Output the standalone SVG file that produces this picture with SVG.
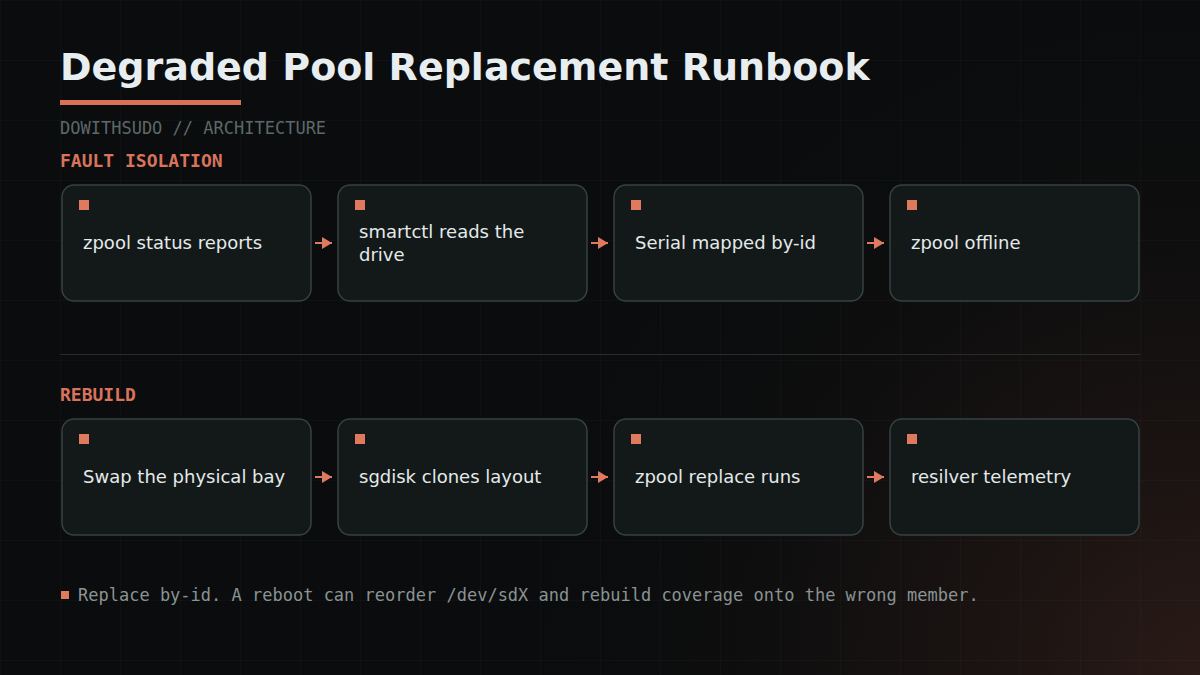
<svg xmlns="http://www.w3.org/2000/svg" width="1200" height="675" viewBox="0 0 1200 675">
  <defs>
    <pattern id="grid" width="60" height="60" patternUnits="userSpaceOnUse">
      <path d="M60 0 L0 0 0 60" fill="none" stroke="#ffffff" stroke-opacity="0.035" stroke-width="1"/>
    </pattern>
    <radialGradient id="glow" cx="1200" cy="675" r="700" gradientUnits="userSpaceOnUse">
      <stop offset="0" stop-color="#2e1c18" stop-opacity="0.9"/>
      <stop offset="0.45" stop-color="#1e1513" stop-opacity="0.55"/>
      <stop offset="1" stop-color="#0a0c0d" stop-opacity="0"/>
    </radialGradient>
    <marker id="arrow" viewBox="0 0 10 12" refX="10" refY="6" markerWidth="10" markerHeight="12" markerUnits="userSpaceOnUse" orient="auto">
      <path d="M0 0 L10 6 L0 12 Z" fill="#e07a5f"/>
    </marker>
    <style>
      .node rect.box { fill: #131919; stroke: #364141; stroke-width: 1.5; }
      .node rect.dot { fill: #e07a5f; }
      .label { font-family: "DejaVu Sans", Verdana, sans-serif; font-size: 18px; fill: #e4eaea; }
      .section { font-family: "DejaVu Sans Mono", monospace; font-size: 18px; font-weight: bold; fill: #d9735c; }
      .conn line { stroke: #e07a5f; stroke-width: 2; }
    </style>
  </defs>

  <rect width="1200" height="675" fill="#0a0c0d"/>
  <rect width="1200" height="675" fill="url(#glow)"/>
  <rect width="1200" height="675" fill="url(#grid)"/>

  <g id="header">
    <text x="60" y="80" font-family="DejaVu Sans, Verdana, sans-serif" font-size="38" font-weight="bold" fill="#e8eef0">Degraded Pool Replacement Runbook</text>
    <rect x="60" y="100" width="181" height="5" fill="#d9705a"/>
    <text x="60" y="134" font-family="DejaVu Sans Mono, monospace" font-size="17" fill="#5d6868">DOWITHSUDO // ARCHITECTURE</text>
  </g>

  <text class="section" x="60" y="167">FAULT ISOLATION</text>
  <line x1="60" y1="354.5" x2="1140" y2="354.5" stroke="#262d2d" stroke-width="1"/>
  <text class="section" x="60" y="401">REBUILD</text>

  <g id="connectors" class="conn">
    <line x1="315" y1="243" x2="332" y2="243" marker-end="url(#arrow)"/>
    <line x1="591" y1="243" x2="608" y2="243" marker-end="url(#arrow)"/>
    <line x1="867" y1="243" x2="884" y2="243" marker-end="url(#arrow)"/>
    <line x1="315" y1="477" x2="332" y2="477" marker-end="url(#arrow)"/>
    <line x1="591" y1="477" x2="608" y2="477" marker-end="url(#arrow)"/>
    <line x1="867" y1="477" x2="884" y2="477" marker-end="url(#arrow)"/>
  </g>

  <g id="node-zpool-status" class="node">
    <rect class="box" x="62" y="185" width="249" height="116" rx="12"/>
    <rect class="dot" x="79" y="200" width="10" height="10"/>
    <text class="label" x="83" y="249">zpool status reports</text>
  </g>
  <g id="node-smartctl" class="node">
    <rect class="box" x="338" y="185" width="249" height="116" rx="12"/>
    <rect class="dot" x="355" y="200" width="10" height="10"/>
    <text class="label" x="359" y="238">smartctl reads the</text>
    <text class="label" x="359" y="261">drive</text>
  </g>
  <g id="node-serial" class="node">
    <rect class="box" x="614" y="185" width="249" height="116" rx="12"/>
    <rect class="dot" x="631" y="200" width="10" height="10"/>
    <text class="label" x="635" y="249">Serial mapped by-id</text>
  </g>
  <g id="node-offline" class="node">
    <rect class="box" x="890" y="185" width="249" height="116" rx="12"/>
    <rect class="dot" x="907" y="200" width="10" height="10"/>
    <text class="label" x="911" y="249">zpool offline</text>
  </g>

  <g id="node-swap" class="node">
    <rect class="box" x="62" y="419" width="249" height="116" rx="12"/>
    <rect class="dot" x="79" y="434" width="10" height="10"/>
    <text class="label" x="83" y="483">Swap the physical bay</text>
  </g>
  <g id="node-sgdisk" class="node">
    <rect class="box" x="338" y="419" width="249" height="116" rx="12"/>
    <rect class="dot" x="355" y="434" width="10" height="10"/>
    <text class="label" x="359" y="483">sgdisk clones layout</text>
  </g>
  <g id="node-replace" class="node">
    <rect class="box" x="614" y="419" width="249" height="116" rx="12"/>
    <rect class="dot" x="631" y="434" width="10" height="10"/>
    <text class="label" x="635" y="483">zpool replace runs</text>
  </g>
  <g id="node-resilver" class="node">
    <rect class="box" x="890" y="419" width="249" height="116" rx="12"/>
    <rect class="dot" x="907" y="434" width="10" height="10"/>
    <text class="label" x="911" y="483">resilver telemetry</text>
  </g>

  <g id="footer">
    <rect x="61" y="591" width="8" height="8" fill="#e07a5f"/>
    <text x="78" y="601" font-family="DejaVu Sans Mono, monospace" font-size="17" fill="#8a9393">Replace by-id. A reboot can reorder /dev/sdX and rebuild coverage onto the wrong member.</text>
  </g>
</svg>
